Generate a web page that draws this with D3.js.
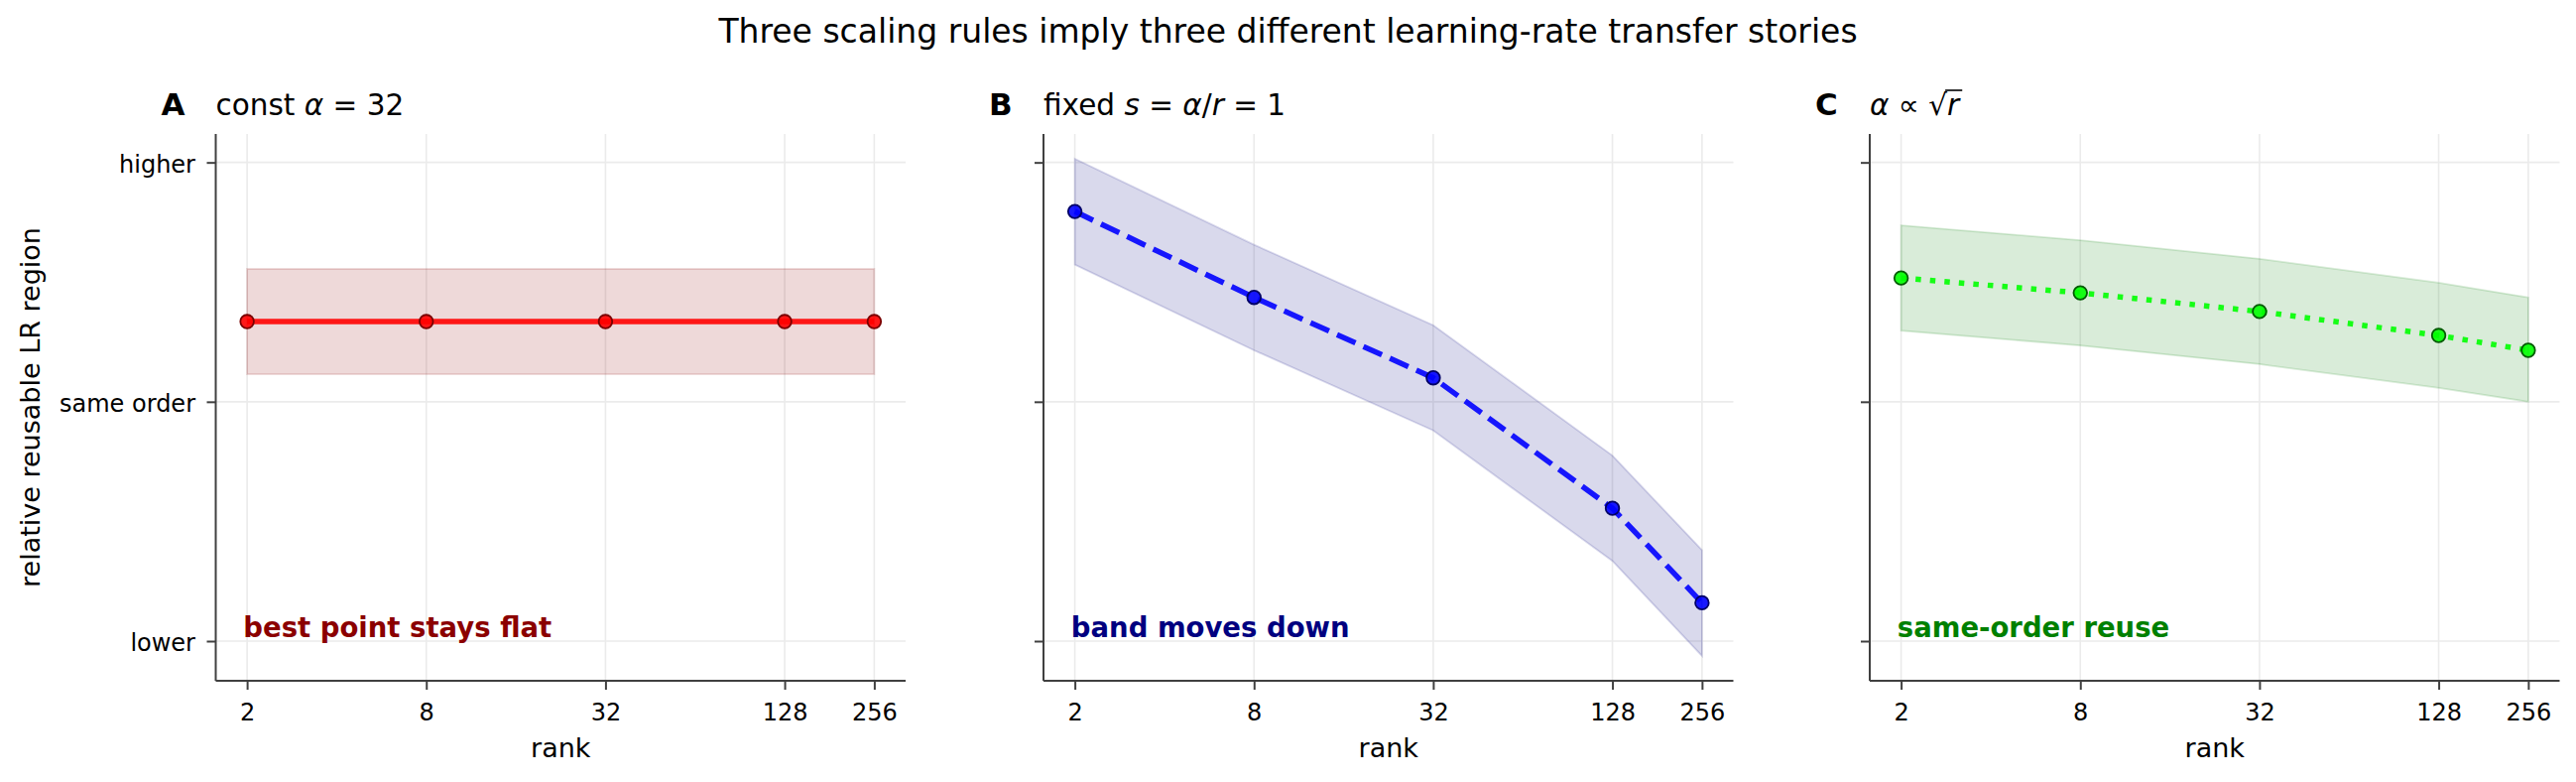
<!DOCTYPE html>
<html>
<head>
<meta charset="utf-8">
<script src="https://cdn.jsdelivr.net/npm/d3@7"></script>
<style>
  body { margin: 0; background: #fff; }
  svg text { font-family: "DejaVu Sans", sans-serif; }
</style>
</head>
<body>
<div id="chart-area"></div>
<script>
// datos
var ranks = [2, 8, 32, 128, 256];
var yTickValues = [0, 1, 2];
var yTickLabels = ["lower", "same order", "higher"];

var constMid = [1.335, 1.335, 1.335, 1.335, 1.335];
var constHi  = [1.555, 1.555, 1.555, 1.555, 1.555];
var constLo  = [1.115, 1.115, 1.115, 1.115, 1.115];

var fixedMid = [1.795, 1.436, 1.100, 0.555, 0.160];
var fixedHi  = [2.015, 1.656, 1.320, 0.775, 0.380];
var fixedLo  = [1.573, 1.215, 0.880, 0.335, -0.062];

var sqrtMid = [1.517, 1.455, 1.377, 1.277, 1.215];
var sqrtHi  = [1.737, 1.675, 1.597, 1.497, 1.436];
var sqrtLo  = [1.297, 1.235, 1.157, 1.058, 1.000];

var W = 2597, H = 788;
var axTop = 135, axBottom = 686;
var lefts = [217.5, 1052, 1885];
var pw = 695.5;
var ph = axBottom - axTop;

var panels = [
  { letter: "A", title: [["const ", false], ["α", true], [" = 32", false]],
    mid: constMid, hi: constHi, lo: constLo,
    line: "#ff0000", edge: "#7a0000", band: "#8b0000", dash: null,
    note: "best point stays flat", noteColor: "#8b0000" },
  { letter: "B", title: [["fixed ", false], ["s", true], [" = ", false], ["α", true], ["/", false], ["r", true], [" = 1", false]],
    mid: fixedMid, hi: fixedHi, lo: fixedLo,
    line: "#0000ff", edge: "#000066", band: "#000080", dash: "20.4,8.8",
    note: "band moves down", noteColor: "#000080" },
  { letter: "C", title: null,
    mid: sqrtMid, hi: sqrtHi, lo: sqrtLo,
    line: "#00ff00", edge: "#005a00", band: "#008000", dash: "5.5,9.1",
    note: "same-order reuse", noteColor: "#008000" }
];

var svg = d3.select("#chart-area").append("svg")
    .attr("width", W)
    .attr("height", H);

// escalas compartidas
var lx = Math.log2(d3.min(ranks)), hx = Math.log2(d3.max(ranks));
var px = (hx - lx) * 0.05;
var x = d3.scaleLog().base(2)
    .domain([Math.pow(2, lx - px), Math.pow(2, hx + px)])
    .range([0, pw]);

var allY = [].concat(constHi, constLo, fixedHi, fixedLo, sqrtHi, sqrtLo);
var ymin = d3.min(allY), ymax = d3.max(allY);
var py = (ymax - ymin) * 0.05;
var y = d3.scaleLinear()
    .domain([ymin - py, ymax + py])
    .range([ph, 0]);

svg.append("text")
    .attr("x", W / 2)
    .attr("y", 43)
    .attr("text-anchor", "middle")
    .attr("font-size", "33px")
    .attr("fill", "#000")
    .text("Three scaling rules imply three different learning-rate transfer stories");

panels.forEach(function(p, k) {
    var g = svg.append("g").attr("transform", "translate(" + lefts[k] + "," + axTop + ")");

    // rejilla
    g.selectAll("line.vgrid").data(ranks).enter().append("line")
        .attr("class", "vgrid")
        .attr("x1", d => x(d)).attr("x2", d => x(d))
        .attr("y1", 0).attr("y2", ph)
        .attr("stroke", "#ebebeb").attr("stroke-width", 1.6);
    g.selectAll("line.hgrid").data(yTickValues).enter().append("line")
        .attr("class", "hgrid")
        .attr("x1", 0).attr("x2", pw)
        .attr("y1", d => y(d)).attr("y2", d => y(d))
        .attr("stroke", "#ebebeb").attr("stroke-width", 1.6);

    var pts = ranks.map((r, i) => ({ r: r, m: p.mid[i], h: p.hi[i], l: p.lo[i] }));

    // banda
    var area = d3.area().x(d => x(d.r)).y0(d => y(d.l)).y1(d => y(d.h));
    g.append("path")
        .datum(pts)
        .attr("d", area)
        .attr("fill", p.band).attr("fill-opacity", 0.15)
        .attr("stroke", p.band).attr("stroke-opacity", 0.15)
        .attr("stroke-width", 1.8);

    // línea
    var line = d3.line().x(d => x(d.r)).y(d => y(d.m));
    g.append("path")
        .datum(pts)
        .attr("d", line)
        .attr("fill", "none")
        .attr("stroke", p.line).attr("stroke-opacity", 0.9)
        .attr("stroke-width", 5.5)
        .attr("stroke-dasharray", p.dash)
        .attr("stroke-linecap", "butt");

    g.selectAll("circle.pt").data(pts).enter().append("circle")
        .attr("class", "pt")
        .attr("cx", d => x(d.r)).attr("cy", d => y(d.m))
        .attr("r", 6.8)
        .attr("fill", p.line).attr("fill-opacity", 0.9)
        .attr("stroke", p.edge).attr("stroke-width", 1.8);

    // ejes
    var xa = g.append("g").attr("transform", "translate(0," + ph + ")")
        .call(d3.axisBottom(x).tickValues(ranks).tickFormat(d3.format("d"))
              .tickSize(9).tickSizeOuter(0).tickPadding(14));
    var ya = g.append("g")
        .call(d3.axisLeft(y).tickValues(yTickValues)
              .tickFormat((d, i) => k === 0 ? yTickLabels[i] : "")
              .tickSize(9).tickSizeOuter(0).tickPadding(11.5));
    [xa, ya].forEach(function(a) {
        a.select(".domain").attr("stroke", "#404040").attr("stroke-width", 2);
        a.selectAll(".tick line").attr("stroke", "#404040").attr("stroke-width", 2);
        a.selectAll(".tick text").attr("fill", "#000").attr("font-size", "24px")
            .attr("font-family", "DejaVu Sans");
    });
    ya.selectAll(".tick text").attr("dy", "0.4em");
    xa.select(".domain").attr("d", "M0,0H" + pw);
    ya.select(".domain").attr("d", "M0," + ph + "V0");

    g.append("text")
        .attr("x", pw / 2).attr("y", 763 - axTop)
        .attr("text-anchor", "middle")
        .attr("font-size", "27px").attr("fill", "#000")
        .text("rank");

    g.append("text")
        .attr("x", pw * 0.04).attr("y", 641.7 - axTop)
        .attr("font-size", "27.5px").attr("font-weight", "bold")
        .attr("fill", p.noteColor)
        .text(p.note);

    // títulos
    g.append("text")
        .attr("x", -55).attr("y", 116 - axTop)
        .attr("font-size", "31px").attr("font-weight", "bold")
        .attr("fill", "#000")
        .text(p.letter);

    var t = g.append("text")
        .attr("x", 0).attr("y", 116 - axTop)
        .attr("font-size", "29.5px").attr("fill", "#000");
    if (p.title) {
        p.title.forEach(function(s) {
            t.append("tspan").attr("font-style", s[1] ? "italic" : "normal").text(s[0]);
        });
    } else {
        t.append("tspan").attr("font-style", "italic").text("α");
        t.append("tspan").text(" ∝ √");
        var rr = t.append("tspan").attr("font-style", "italic").text("r");
        // barra de la raíz
        var full = t.node().getComputedTextLength();
        var rw = rr.node().getComputedTextLength();
        g.append("line")
            .attr("x1", full - rw - 2).attr("x2", full + 3)
            .attr("y1", 91 - axTop).attr("y2", 91 - axTop)
            .attr("stroke", "#000").attr("stroke-width", 1.6);
    }
});

svg.append("text")
    .attr("transform", "translate(40," + ((axTop + axBottom) / 2) + ") rotate(-90)")
    .attr("text-anchor", "middle")
    .attr("font-size", "27px").attr("fill", "#000")
    .text("relative reusable LR region");
</script>
</body>
</html>
